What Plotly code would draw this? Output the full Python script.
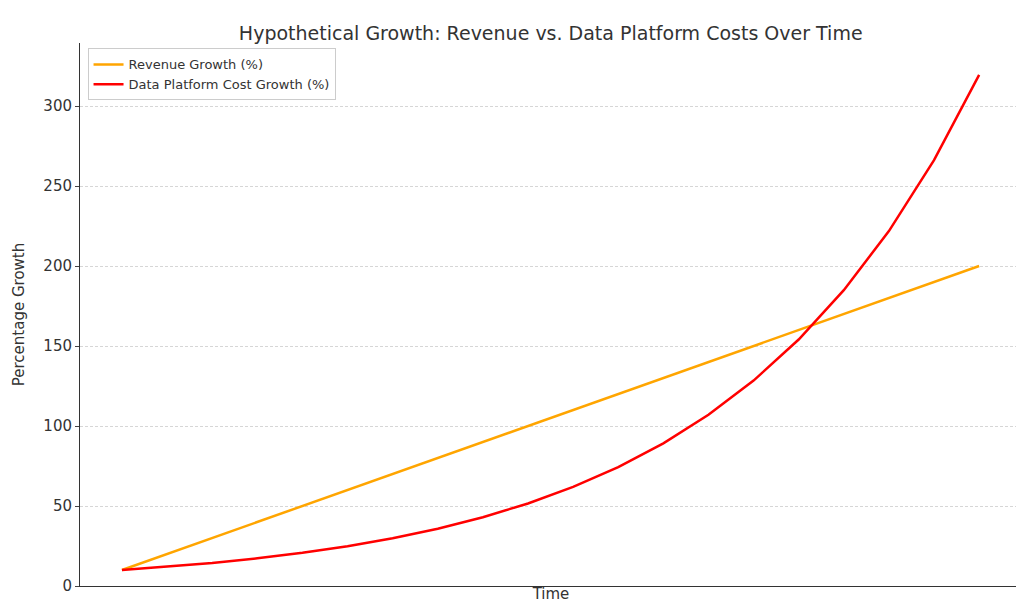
import plotly.graph_objects as go

time_idx = list(range(20))
revenue = [10, 20, 30, 40, 50, 60, 70, 80, 90, 100, 110, 120, 130, 140, 150, 160, 170, 180, 190, 200]
platform_cost = [10, 12, 14.4, 17.28, 20.74, 24.88, 29.86, 35.83, 43.0, 51.6,
                 61.92, 74.3, 89.16, 106.99, 128.39, 154.07, 184.88, 221.86, 266.23, 319.48]

fig = go.Figure()
fig.add_trace(go.Scatter(x=time_idx, y=revenue, mode="lines", name="Revenue Growth (%)",
                         line=dict(color="#FFA500", width=2.5)))
fig.add_trace(go.Scatter(x=time_idx, y=platform_cost, mode="lines", name="Data Platform Cost Growth (%)",
                         line=dict(color="#FF0000", width=2.5)))

fig.update_layout(
    width=1024, height=611,
    margin=dict(l=72, r=10, t=35, b=33, autoexpand=False),
    paper_bgcolor="white", plot_bgcolor="white",
    font=dict(family="DejaVu Sans", color="#333333", size=14),
    title=dict(text="Hypothetical Growth: Revenue vs. Data Platform Costs Over Time",
               x=0.53, xanchor="center", y=0.97, font=dict(size=19)),
    xaxis=dict(title=dict(text="Time", standoff=2, font=dict(size=15)), range=[-0.93, 19.95],
               showticklabels=False, automargin=False,
               showgrid=False, zeroline=False, showline=True, linecolor="#333", ticks=""),
    yaxis=dict(title=dict(text="Percentage Growth", font=dict(size=15)), range=[0, 339.4],
               automargin=False,
               tickvals=[0, 50, 100, 150, 200, 250, 300], showgrid=True, gridcolor="#d6d6d6",
               griddash="3px,2px", zeroline=False, showline=True, linecolor="#333",
               ticks="outside", ticklen=4, tickfont=dict(size=15)),
    legend=dict(x=0.008, y=0.99, xanchor="left", yanchor="top", bgcolor="white",
                bordercolor="#cccccc", borderwidth=1, font=dict(size=13)),
)

fig.write_html("out.html")
